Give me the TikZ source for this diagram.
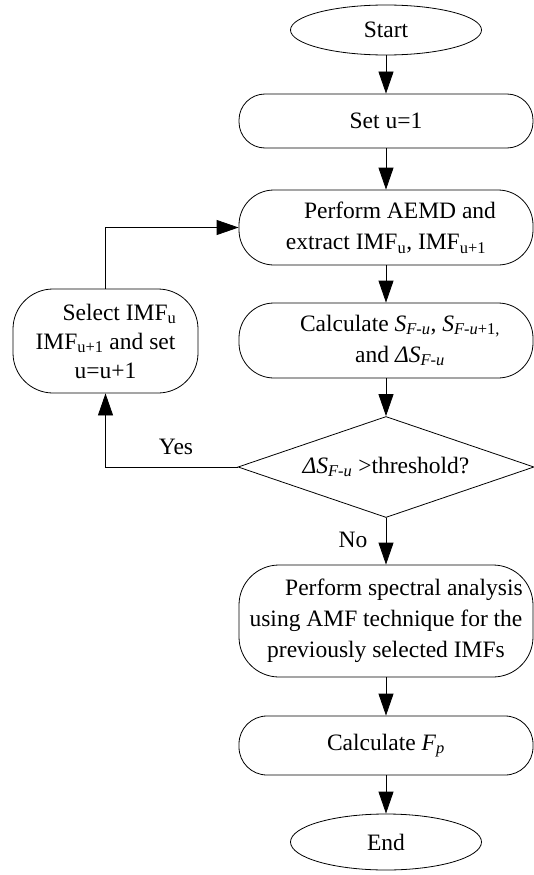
\documentclass[tikz,border=0pt]{standalone}
\usepackage{fontspec}
\setmainfont{Liberation Serif}
\usetikzlibrary{shapes.geometric,arrows.meta}
\tikzset{
  base/.style={draw, line width=0.8pt, font=\fontsize{23.5}{31}\selectfont, align=center, inner sep=0pt},
  term/.style={base, ellipse, minimum width=191pt, minimum height=50pt},
  proc/.style={base, rectangle, rounded corners=35pt, minimum width=294pt},
  dec/.style={base, diamond, aspect=3, minimum width=296pt, minimum height=101pt},
  arr/.style={-{Triangle[length=22pt,width=15pt]}, line width=0.8pt},
  lbl/.style={font=\fontsize{23.5}{31}\selectfont, inner sep=0pt}
}
\begin{document}
\begin{tikzpicture}[x=1pt,y=-1pt]
\useasboundingbox (0,0) rectangle (533,875);
\node[term] (start) at (386,30) {Start};
\node[proc, minimum height=54pt, rounded corners=26pt] (set) at (386,121) {Set u=1};
\node[proc, minimum height=75pt] (aemd) at (386,227.5) {\hspace*{28pt}Perform AEMD and\\extract IMF\textsubscript{u}, IMF\textsubscript{u+1}};
\node[proc, minimum height=75pt] (calc) at (386,340.5) {\hspace*{28pt}Calculate \textit{S}\textsubscript{\textit{F-u}}, \textit{S}\textsubscript{\textit{F-u}+1,}\\\hspace*{28pt}and \textit{ΔS}\textsubscript{\textit{F-u}}};
\node[dec] (dec) at (386,467) {\textit{ΔS}\textsubscript{\textit{F-u}} >threshold?};
\node[proc, minimum height=112pt, rounded corners=40pt] (spec) at (386,621) {\hspace*{36pt}Perform spectral analysis\\using AMF technique for the\\previously selected IMFs};
\node[proc, minimum height=59pt, rounded corners=28pt] (fp) at (386,745.5) {Calculate \textit{F}\textsubscript{\textit{p}}};
\node[term, minimum height=56pt] (end) at (386,842) {End};
\node[base, rectangle, rounded corners=40pt, minimum width=185pt, minimum height=104pt, font=\fontsize{23.5}{29}\selectfont] (sel) at (105.5,341) {\hspace*{28pt}Select IMF\textsubscript{u}\\IMF\textsubscript{u+1} and set\\u=u+1};
\node[lbl] (yes) at (176,447) {Yes};
\node[lbl] (no) at (353,540) {No};
\draw[arr] (start) -- (set);
\draw[arr] (set) -- (aemd);
\draw[arr] (aemd) -- (calc);
\draw[arr] (calc) -- (dec);
\draw[arr] (dec) -- (spec);
\draw[arr] (spec) -- (fp);
\draw[arr] (fp) -- (end);
\draw[arr] (dec.west) -| (sel.south);
\draw[arr] (sel.north) |- (aemd.west);
\end{tikzpicture}
\end{document}
